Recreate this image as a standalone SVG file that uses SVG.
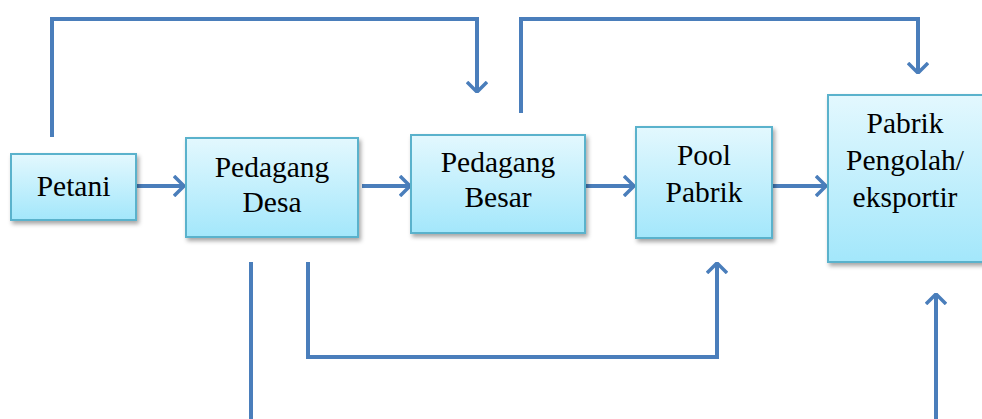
<svg xmlns="http://www.w3.org/2000/svg" width="982" height="419" viewBox="0 0 982 419">
<defs>
<linearGradient id="g" x1="0" y1="0" x2="0" y2="1">
<stop offset="0" stop-color="#e3f8fe"/>
<stop offset="1" stop-color="#a3e7fb"/>
</linearGradient>
<filter id="sh" x="-10%" y="-10%" width="130%" height="130%">
<feDropShadow dx="2" dy="3" stdDeviation="2" flood-color="#000" flood-opacity="0.35"/>
</filter>
<marker id="ah" viewBox="0 0 12 22" refX="11" refY="11" markerWidth="12" markerHeight="22" markerUnits="userSpaceOnUse" orient="auto">
<path d="M1,1 L11,11 L1,21" fill="none" stroke="#4a7ebb" stroke-width="3.5"/>
</marker>
</defs>
<style>
.box{fill:url(#g);stroke:#5ab2cc;stroke-width:2;filter:url(#sh)}
.t{font-family:"Liberation Serif","Times New Roman",serif;font-size:29.5px;fill:#000;text-anchor:middle}
.c{fill:none;stroke:#4a7ebb;stroke-width:4}
</style>
<rect width="982" height="419" fill="#fff"/>
<g id="connectors">
<polyline class="c" points="52,137 52,19 477,19 477,92" marker-end="url(#ah)"/>
<polyline class="c" points="521,113 521,19 918,19 918,73" marker-end="url(#ah)"/>
<line class="c" x1="136" y1="186" x2="184" y2="186" marker-end="url(#ah)"/>
<line class="c" x1="362" y1="186" x2="410" y2="186" marker-end="url(#ah)"/>
<line class="c" x1="586" y1="186" x2="634" y2="186" marker-end="url(#ah)"/>
<line class="c" x1="773" y1="186" x2="826" y2="186" marker-end="url(#ah)"/>
<line class="c" x1="251" y1="262" x2="251" y2="419"/>
<polyline class="c" points="308,262 308,357 717,357 717,263" marker-end="url(#ah)"/>
<line class="c" x1="936" y1="419" x2="936" y2="294" marker-end="url(#ah)"/>
</g>
<g id="petani">
<rect class="box" x="11" y="154" width="125" height="66"/>
<text class="t" x="73.5" y="196">Petani</text>
</g>
<g id="pedagang-desa">
<rect class="box" x="186" y="138" width="172" height="99"/>
<text class="t" x="272" y="177">Pedagang</text>
<text class="t" x="272" y="212">Desa</text>
</g>
<g id="pedagang-besar">
<rect class="box" x="411" y="135" width="174" height="98"/>
<text class="t" x="498" y="172">Pedagang</text>
<text class="t" x="498" y="207">Besar</text>
</g>
<g id="pool-pabrik">
<rect class="box" x="636" y="127" width="136" height="111"/>
<text class="t" x="704" y="165">Pool</text>
<text class="t" x="704" y="202">Pabrik</text>
</g>
<g id="pabrik-pengolah">
<rect class="box" x="828" y="95" width="160" height="167"/>
<text class="t" x="905" y="133">Pabrik</text>
<text class="t" x="905" y="170">Pengolah/</text>
<text class="t" x="905" y="207">eksportir</text>
</g>
</svg>
